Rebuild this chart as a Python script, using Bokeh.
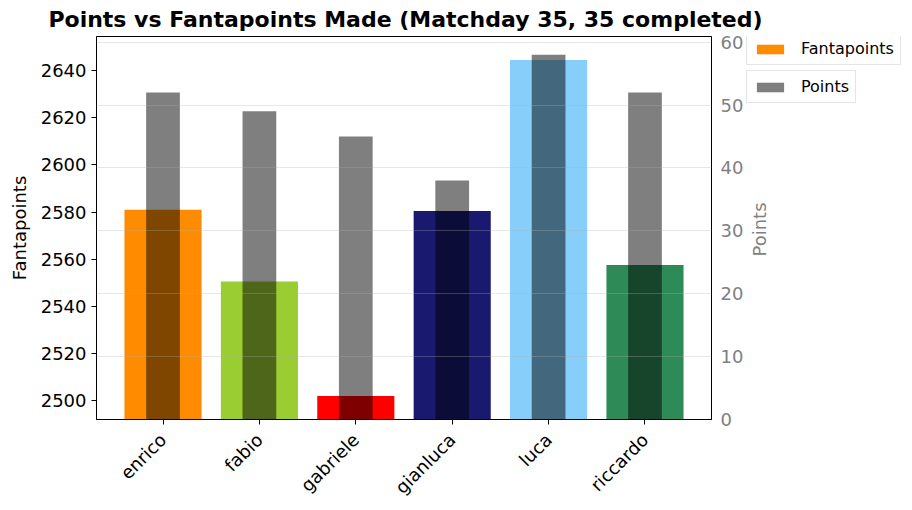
from bokeh.plotting import figure
from bokeh.layouts import row, column
from bokeh.models import (Range1d, LinearAxis, SingleIntervalTicker, Grid, Legend,
                          LegendItem, ColumnDataSource, Label)
from bokeh.embed import file_html
from bokeh.resources import INLINE
import math

players = ["enrico", "fabio", "gabriele", "gianluca", "luca", "riccardo"]
fantapoints = [2581.0, 2550.5, 2502.0, 2580.5, 2644.5, 2557.5]
points = [52, 49, 45, 38, 58, 52]
colors = ["#FF8C00", "#9ACD32", "#FF0000", "#191970", "#87CEFA", "#2E8B57"]
title_text = "Points vs Fantapoints Made (Matchday 35, 35 completed)"

FONT = "DejaVu Sans"
TOP = 32          # height of title strip
PAD = 4           # top border of the chart below the strip
FRAME_H = 383
BOT = 90
H = PAD + FRAME_H + BOT
FRAME_TOP = TOP + PAD   # page y of frame top
idx = list(range(len(players)))

fp_lo = min(fantapoints) - 10
fp_hi = max(fantapoints) + 10
pt_hi = max(points) * 1.05

# ---- title strip
pt = figure(width=904, height=TOP, output_backend="svg", toolbar_location=None,
            title=None, x_range=Range1d(0, 1), y_range=Range1d(0, 1),
            x_axis_type=None, y_axis_type=None,
            min_border_left=0, min_border_right=0, min_border_top=0, min_border_bottom=0)
pt.outline_line_color = None
pt.xgrid.visible = False
pt.ygrid.visible = False
pt.add_layout(Label(x=405, y=TOP - 18.5, x_units="screen", y_units="screen", text=title_text,
                    text_align="center", text_baseline="middle", text_font=FONT,
                    text_font_size="22px", text_font_style="bold", text_color="black"))

# ---- main chart
p = figure(width=746, height=H, output_backend="svg", toolbar_location=None, title=None,
           x_range=Range1d(-0.69, len(players) - 1 + 0.69),
           y_range=Range1d(fp_lo, fp_hi),
           min_border_left=96, min_border_right=32, min_border_top=PAD,
           min_border_bottom=BOT)
p.extra_y_ranges = {"pts": Range1d(0, pt_hi)}

src_fp = ColumnDataSource(dict(x=idx, top=fantapoints, color=colors))
src_pt = ColumnDataSource(dict(x=idx, top=points))

p.vbar(x="x", top="top", bottom=fp_lo, width=0.8, fill_color="color",
       line_color=None, source=src_fp)
p.vbar(x="x", top="top", bottom=0, width=0.35, fill_color="black",
       fill_alpha=0.5, line_color=None, source=src_pt, y_range_name="pts")

p.xgrid.visible = False
p.ygrid.visible = False

xa = p.xaxis[0]
xa.ticker = idx
xa.major_label_overrides = {i: n for i, n in enumerate(players)}
xa.major_label_orientation = math.pi / 4
xa.major_label_standoff = 12
xa.major_label_text_font = FONT
xa.major_label_text_font_size = "18px"
xa.major_label_text_color = "black"
xa.minor_tick_line_color = None
xa.major_tick_out = 5
xa.major_tick_in = 0
xa.axis_line_color = "black"
xa.major_tick_line_color = "black"

ya = p.yaxis[0]
ya.ticker = SingleIntervalTicker(interval=20)
ya.axis_label = "Fantapoints"
ya.axis_label_standoff = 8
ya.axis_label_text_font = FONT
ya.axis_label_text_font_size = "18px"
ya.axis_label_text_font_style = "normal"
ya.axis_label_text_color = "black"
ya.major_label_standoff = 5
ya.major_label_text_font = FONT
ya.major_label_text_font_size = "18px"
ya.major_label_text_color = "black"
ya.minor_tick_line_color = None
ya.major_tick_out = 5
ya.major_tick_in = 0
ya.axis_line_color = "black"
ya.major_tick_line_color = "black"

ra = LinearAxis(y_range_name="pts", ticker=SingleIntervalTicker(interval=10))
ra.major_label_text_font = FONT
ra.major_label_text_font_size = "18px"
ra.major_label_text_color = "gray"
ra.minor_tick_line_color = None
ra.major_tick_line_color = None
ra.major_tick_out = 0
ra.major_tick_in = 0
ra.major_label_standoff = 5
ra.axis_line_color = "black"
p.add_layout(ra, "right")

g = Grid(dimension=1, ticker=ra.ticker, y_range_name="pts",
         grid_line_color="#b0b0b0", grid_line_alpha=0.3, level="overlay")
p.add_layout(g)

p.outline_line_color = "black"
p.outline_line_alpha = 1.0

# ---- side panel: right-axis title and the two legend boxes
p2 = figure(width=158, height=H, output_backend="svg", toolbar_location=None, title=None,
            x_range=Range1d(0, 1), y_range=Range1d(0, 1),
            x_axis_type=None, y_axis_type=None,
            min_border_left=0, min_border_right=0, min_border_top=PAD,
            min_border_bottom=BOT)
p2.outline_line_color = None
p2.xgrid.visible = False
p2.ygrid.visible = False

d_fp = p2.vbar(x=[10], top=[1], bottom=0, width=0.5, fill_color=colors[0], line_color=None)
d_pt = p2.vbar(x=[10], top=[1], bottom=0, width=0.5, fill_color="black",
               fill_alpha=0.5, line_color=None)

p2.add_layout(Label(x=13, y=FRAME_H - (229 - FRAME_TOP), x_units="screen", y_units="screen",
                    text="Points", angle=math.pi / 2, text_align="center",
                    text_baseline="middle", text_font=FONT, text_font_size="18px",
                    text_color="gray"))


def mk_legend(label, renderer, y):
    return Legend(items=[LegendItem(label=label, renderers=[renderer])],
                  location=(0, y), label_text_font=FONT, label_text_font_size="16px",
                  label_text_color="black",
                  glyph_width=34, glyph_height=12, label_standoff=14,
                  padding=6, spacing=0, margin=0,
                  border_line_color="#cccccc", border_line_width=1,
                  background_fill_alpha=1.0)


p2.add_layout(mk_legend("Fantapoints", d_fp, FRAME_H - (65 - FRAME_TOP)))
p2.add_layout(mk_legend("Points", d_pt, FRAME_H - (103 - FRAME_TOP)))

layout = column(pt, row(p, p2, spacing=0), spacing=0)
open("out.html", "w").write(file_html(layout, INLINE))
